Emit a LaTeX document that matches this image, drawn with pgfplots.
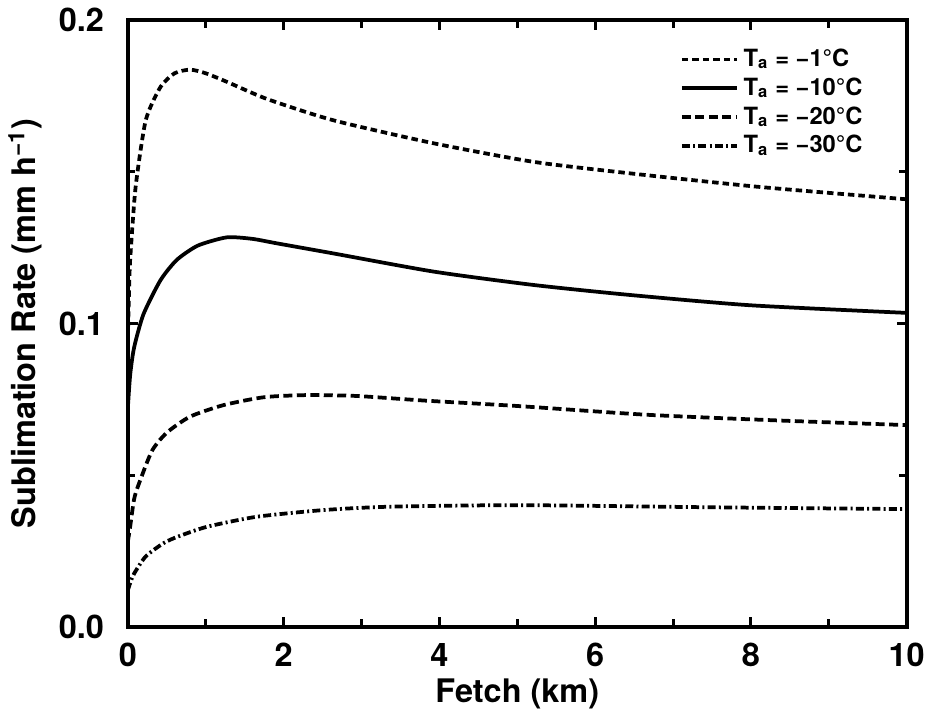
\documentclass[border=0pt]{standalone}
\usepackage{pgfplots}
\pgfplotsset{compat=1.18}
\usepackage{fontspec}
\setmainfont{TeX Gyre Heros}

% Sublimation rate vs fetch, four air temperatures
\begin{document}
\begin{tikzpicture}
\begin{axis}[
    scale only axis,
    width=312pt, height=243pt,
    xmin=0, xmax=10, ymin=0, ymax=0.2,
    xtick={0,2,...,10}, minor xtick={1,3,...,9},
    ytick={0,0.1,0.2}, minor ytick={0.05,0.15},
    tick align=inside,
    major tick length=4pt, minor tick length=3pt,
    every tick/.style={line width=1.2pt, black},
    axis line style={line width=1.6pt},
    font=\bfseries\fontsize{13}{15}\selectfont,
    /pgf/number format/assume math mode=true,
    yticklabel style={xshift=-6pt, /pgf/number format/fixed,
        /pgf/number format/fixed zerofill, /pgf/number format/precision=1},
    xticklabel style={yshift=-3pt},
    scaled y ticks=false,
    xlabel={Fetch (km)},
    ylabel={Sublimation Rate (mm h\textsuperscript{−1})},
    xlabel style={yshift=2pt},
    ylabel style={yshift=0pt},
    legend style={at={(0.96,0.97)}, anchor=north east, draw=none, fill=none,
        font=\bfseries\fontsize{9.5}{10}\selectfont, row sep=-1pt},
    legend cell align=left,
    legend image code/.code={\draw[#1] (0cm,0cm) -- (22pt,0cm);},
    every axis plot/.append style={smooth, tension=0.4},
]
\addplot[black, line width=1.5pt, dash pattern=on 2.6pt off 1.6pt] coordinates {
  (0,0.095) (0.02,0.115) (0.035,0.123) (0.1,0.145) (0.23,0.167) (0.42,0.178)
  (0.6,0.1825) (0.8,0.1837) (1.0,0.1825) (1.27,0.1797) (1.79,0.174) (2.64,0.167)
  (3.93,0.1594) (5.21,0.1533) (6.45,0.1495) (8.08,0.1451) (9.88,0.1412) (10,0.141)
};
\addplot[black, line width=1.5pt] coordinates {
  (0,0.072) (0.03,0.083) (0.08,0.092) (0.2,0.103) (0.42,0.1143) (0.63,0.121)
  (0.9,0.1257) (1.27,0.1284) (1.6,0.1279) (1.92,0.1264) (2.64,0.1231)
  (3.93,0.1171) (5.21,0.1127) (6.45,0.1094) (8,0.106) (10,0.1035)
};
\addplot[black, line width=1.5pt, dash pattern=on 3.6pt off 1.8pt] coordinates {
  (0,0.028) (0.03,0.033) (0.08,0.042) (0.14,0.047) (0.31,0.058) (0.5,0.064)
  (0.8,0.0693) (1.23,0.0731) (1.75,0.0757) (2.3,0.0764) (2.94,0.0761)
  (3.8,0.0746) (5.0,0.0728) (6.67,0.0699) (8.38,0.068) (10,0.0665)
};
\addplot[black, line width=1.5pt, dash pattern=on 3.2pt off 1.3pt on 0.8pt off 1.3pt] coordinates {
  (0,0.012) (0.03,0.0144) (0.08,0.0175) (0.23,0.0232) (0.46,0.0276) (0.65,0.0298)
  (1.02,0.033) (1.66,0.0363) (2.52,0.0385) (3.37,0.0396) (5.04,0.0401)
  (7.5,0.0394) (10,0.0388)
};
\legend{T\textsubscript{a} = −1°C, T\textsubscript{a} = −10°C,
        T\textsubscript{a} = −20°C, T\textsubscript{a} = −30°C}
\end{axis}
\end{tikzpicture}
\end{document}
